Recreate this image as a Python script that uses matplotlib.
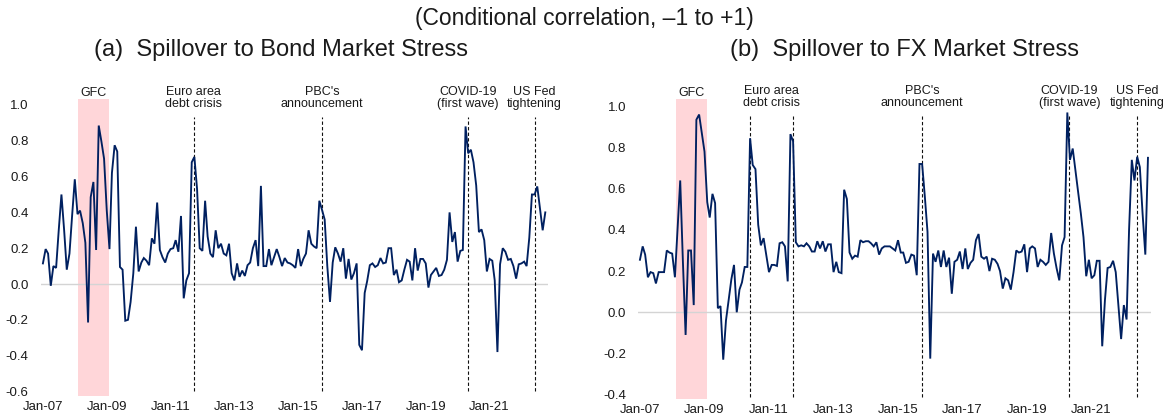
import matplotlib
matplotlib.use("Agg")
import matplotlib.pyplot as plt
import matplotlib.transforms as mtransforms
import pandas as pd
import numpy as np

plt.rcParams['font.family'] = ['Liberation Sans', 'DejaVu Sans']

# Monthly observations, Jan 2007 - Oct 2022
months = pd.date_range("2007-01-01", periods=190, freq="MS")

bond_stress = [
    0.115, 0.195, 0.17, -0.01, 0.10, 0.09, 0.30, 0.50, 0.30, 0.08,
    0.17, 0.38, 0.585, 0.39, 0.41, 0.34, 0.23, -0.215, 0.485, 0.57,
    0.19, 0.885, 0.795, 0.70, 0.41, 0.195, 0.62, 0.775, 0.74, 0.095,
    0.08, -0.205, -0.20, -0.10, 0.06, 0.32, 0.07, 0.12, 0.145, 0.13,
    0.105, 0.255, 0.225, 0.455, 0.19, 0.15, 0.12, 0.17, 0.195, 0.20,
    0.245, 0.18, 0.38, -0.08, 0.02, 0.06, 0.68, 0.71, 0.53, 0.20,
    0.185, 0.465, 0.265, 0.17, 0.15, 0.30, 0.20, 0.225, 0.17, 0.16,
    0.225, 0.06, 0.02, 0.115, 0.04, 0.075, 0.045, 0.105, 0.12, 0.20,
    0.245, 0.10, 0.548, 0.10, 0.10, 0.195, 0.105, 0.15, 0.195, 0.15,
    0.10, 0.145, 0.12, 0.115, 0.105, 0.09, 0.195, 0.10, 0.14, 0.17,
    0.30, 0.225, 0.21, 0.20, 0.465, 0.415, 0.36, 0.10, -0.10, 0.12,
    0.205, 0.17, 0.125, 0.20, 0.03, 0.14, 0.025, 0.06, 0.115, -0.34,
    -0.37, -0.05, 0.015, 0.105, 0.115, 0.095, 0.105, 0.145, 0.115, 0.12,
    0.20, 0.20, 0.05, 0.08, 0.01, 0.02, 0.08, 0.135, 0.125, 0.02,
    0.20, 0.075, 0.14, 0.14, 0.115, -0.02, 0.05, 0.07, 0.09, 0.045,
    0.05, 0.08, 0.135, 0.40, 0.235, 0.29, 0.125, 0.185, 0.19, 0.88,
    0.73, 0.75, 0.68, 0.55, 0.29, 0.305, 0.245, 0.07, 0.14, 0.13,
    0.02, -0.38, 0.11, 0.20, 0.18, 0.135, 0.14, 0.10, 0.03, 0.11,
    0.115, 0.125, 0.10, 0.26, 0.50, 0.50, 0.545, 0.42, 0.30, 0.40,
]

fx_stress = [
    0.255, 0.32, 0.28, 0.17, 0.195, 0.19, 0.14, 0.195, 0.195, 0.195,
    0.30, 0.29, 0.285, 0.17, 0.40, 0.64, 0.25, -0.11, 0.30, 0.30,
    0.035, 0.935, 0.96, 0.87, 0.78, 0.535, 0.46, 0.575, 0.53, 0.02,
    0.03, -0.23, -0.04, 0.06, 0.16, 0.23, 0.0, 0.11, 0.145, 0.22,
    0.22, 0.845, 0.715, 0.695, 0.425, 0.325, 0.36, 0.28, 0.195, 0.23,
    0.23, 0.225, 0.335, 0.34, 0.32, 0.15, 0.865, 0.83, 0.34, 0.32,
    0.325, 0.32, 0.335, 0.32, 0.295, 0.295, 0.345, 0.31, 0.345, 0.295,
    0.33, 0.33, 0.195, 0.245, 0.195, 0.19, 0.595, 0.55, 0.29, 0.26,
    0.275, 0.27, 0.35, 0.34, 0.345, 0.345, 0.335, 0.32, 0.34, 0.28,
    0.31, 0.32, 0.32, 0.32, 0.31, 0.30, 0.35, 0.29, 0.29, 0.24,
    0.245, 0.28, 0.275, 0.18, 0.72, 0.72, 0.56, 0.39, -0.225, 0.285,
    0.245, 0.30, 0.22, 0.30, 0.22, 0.265, 0.09, 0.245, 0.255, 0.295,
    0.21, 0.31, 0.21, 0.24, 0.255, 0.35, 0.38, 0.27, 0.26, 0.27,
    0.20, 0.26, 0.255, 0.235, 0.20, 0.115, 0.165, 0.155, 0.11, 0.195,
    0.30, 0.29, 0.295, 0.33, 0.195, 0.31, 0.32, 0.31, 0.22, 0.255,
    0.245, 0.23, 0.245, 0.385, 0.285, 0.215, 0.155, 0.325, 0.365, 0.97,
    0.74, 0.795, 0.69, 0.585, 0.48, 0.365, 0.175, 0.255, 0.165, 0.18,
    0.25, 0.25, -0.165, 0.06, 0.215, 0.22, 0.25, 0.195, 0.03, -0.13,
    0.035, -0.035, 0.40, 0.74, 0.64, 0.755, 0.705, 0.48, 0.28, 0.75,
]

tick_labels = ["Jan-07", "Jan-09", "Jan-11", "Jan-13", "Jan-15", "Jan-17", "Jan-19", "Jan-21"]
bond_yticks = [-0.6, -0.4, -0.2, 0.0, 0.2, 0.4, 0.6, 0.8, 1.0]
fx_yticks = [-0.4, -0.2, 0.0, 0.2, 0.4, 0.6, 0.8, 1.0]

gfc_label = "GFC"
gfc_span = ("2008-02-10", "2009-01-28")

bond_events = [
    ("Euro area\ndebt crisis", ["2011-09-25"]),
    ("PBC's\nannouncement", ["2015-10-01"]),
    ("COVID-19\n(first wave)", ["2020-04-25"]),
    ("US Fed\ntightening", ["2022-06-01"]),
]
fx_events = [
    ("Euro area\ndebt crisis", ["2010-06-05", "2011-09-25"]),
    ("PBC's\nannouncement", ["2015-10-01"]),
    ("COVID-19\n(first wave)", ["2020-04-25"]),
    ("US Fed\ntightening", ["2022-06-01"]),
]

supertitle = "(Conditional correlation, \u20131 to +1)"
title_a = "(a)  Spillover to Bond Market Stress"
title_b = "(b)  Spillover to FX Market Stress"

LINE = "#002060"
SHADE = "#ffd6d9"
TEXT = "#1a1a1a"
W, H = 1168, 416

fig = plt.figure(figsize=(W / 100, H / 100), dpi=100)


def px_axes(x0, x1, ytop, ybot):
    return fig.add_axes([x0 / W, 1 - ybot / H, (x1 - x0) / W, (ybot - ytop) / H])


def draw_panel(ax, values, ylim, yticks, events, vl_range, label_y, gfc_y, ypad):
    xlim = (pd.Timestamp("2006-12-10"), pd.Timestamp("2022-11-01"))
    ax.axvspan(pd.Timestamp(gfc_span[0]), pd.Timestamp(gfc_span[1]),
               color=SHADE, lw=0, zorder=0)
    ax.axhline(0, color="#d4d4d4", lw=1.0, zorder=1)
    ax.plot(months, values, color=LINE, lw=1.35, zorder=3,
            solid_joinstyle="miter")
    trans = mtransforms.blended_transform_factory(ax.transData, ax.transAxes)
    for label, dates in events:
        ds = [pd.Timestamp(d) for d in dates]
        for d in ds:
            ax.vlines(d, vl_range[0], vl_range[1], colors="#111111", lw=0.8,
                      linestyles=(0, (3, 2)), zorder=2)
        xm = ds[0] + (ds[-1] - ds[0]) / 2
        ax.text(xm, label_y, label, transform=trans, ha="center", va="center",
                fontsize=9, linespacing=1.0, color=TEXT, clip_on=False)
    g0, g1 = pd.Timestamp(gfc_span[0]), pd.Timestamp(gfc_span[1])
    ax.text(g0 + (g1 - g0) / 2, gfc_y, gfc_label, transform=trans, ha="center",
            va="center", fontsize=9, color=TEXT, clip_on=False)
    ax.set_xlim(*xlim)
    ax.set_ylim(*ylim)
    ax.set_xticks([pd.to_datetime(t, format="%b-%y") for t in tick_labels])
    ax.set_xticklabels(tick_labels)
    ax.set_yticks(yticks)
    ax.set_yticklabels([f"{v:.1f}" for v in yticks])
    ax.tick_params(axis="both", length=0, labelsize=9.5, colors=TEXT)
    ax.tick_params(axis="y", pad=ypad)
    ax.tick_params(axis="x", pad=4)
    for s in ax.spines.values():
        s.set_visible(False)
    ax.patch.set_alpha(0)


ax1 = px_axes(41, 548, 98.7, 395.9)
draw_panel(ax1, bond_stress, (-0.625, 1.035), bond_yticks, bond_events,
           (-0.6, 0.935), 1.004, 1.020, 9)

ax2 = px_axes(638, 1150.7, 99.3, 398.8)
draw_panel(ax2, fx_stress, (-0.42, 1.034), fx_yticks, fx_events,
           (-0.41, 0.955), 1.0077, 1.022, 8.5)

fig.text(584 / W, 1 - 25 / H, supertitle, ha="center", va="baseline",
         fontsize=16.5, color=TEXT)
fig.text(280.5 / W, 1 - 56 / H, title_a, ha="center", va="baseline",
         fontsize=17, color=TEXT)
fig.text(904.5 / W, 1 - 56 / H, title_b, ha="center", va="baseline",
         fontsize=17, color=TEXT)

fig.savefig("out.png", dpi=100)
